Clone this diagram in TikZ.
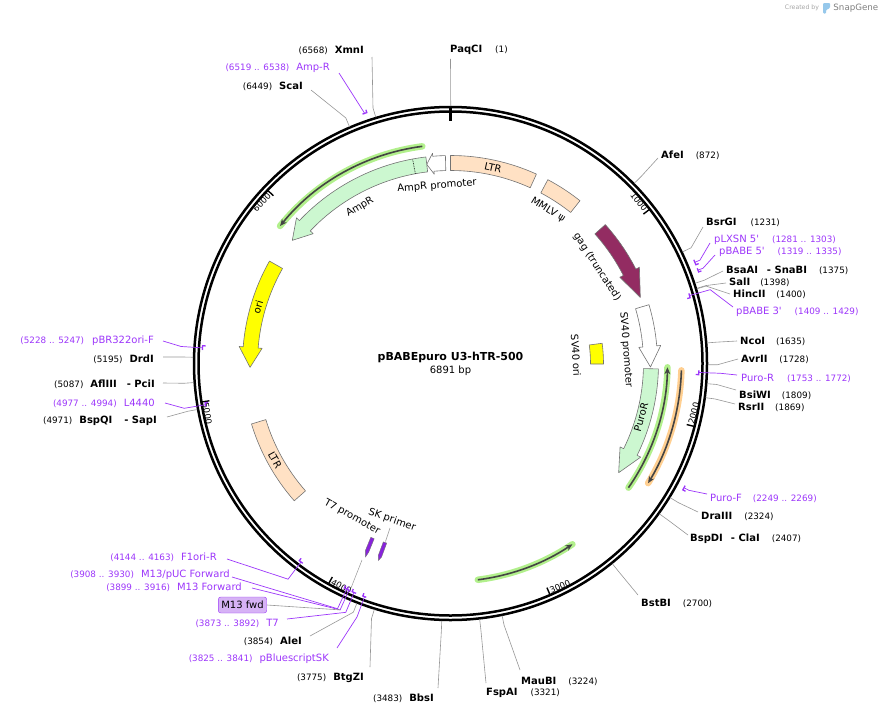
\documentclass[tikz,border=0pt]{standalone}
\usepackage{fontspec}
\setmainfont{DejaVu Sans}[Ligatures=TeXOff]
\usetikzlibrary{arrows.meta,positioning}

\definecolor{primerc}{RGB}{156,54,250}
\definecolor{ltrc}{RGB}{255,225,196}
\definecolor{ampc}{RGB}{204,247,208}
\definecolor{gagc}{RGB}{147,44,98}
\definecolor{oric}{RGB}{255,255,0}
\definecolor{glowg}{RGB}{178,240,140}
\definecolor{glowo}{RGB}{255,207,145}
\definecolor{orfdark}{RGB}{68,68,68}
\definecolor{leadc}{RGB}{150,150,150}
\definecolor{outc}{RGB}{115,115,115}
\definecolor{boxc}{RGB}{214,178,245}
\definecolor{t7c}{RGB}{136,34,220}
\definecolor{snapblue}{RGB}{150,200,235}

\newcommand{\posn}[1]{{\fontsize{8.8}{10}\selectfont(#1)}}

% bar between two angles (degrees from the top, clockwise)
\newcommand{\featbar}[5]{%
  \pgfmathsetmacro{\angA}{#2-90}\pgfmathsetmacro{\angB}{#3-90}
  \draw[#1] (\angA:#5) arc[start angle=\angA, end angle=\angB, radius=#5]
    -- (\angB:#4) arc[start angle=\angB, end angle=\angA, radius=#4] -- cycle;}
% arrow: style, tail, head base, tip, r in, r out, overhang
\newcommand{\featarrow}[7]{%
  \pgfmathsetmacro{\angA}{#2-90}\pgfmathsetmacro{\angB}{#3-90}\pgfmathsetmacro{\angC}{#4-90}
  \pgfmathsetmacro{\radM}{(#5+#6)/2}\pgfmathsetmacro{\radI}{#5-#7}\pgfmathsetmacro{\radO}{#6+#7}
  \draw[#1] (\angA:#6) arc[start angle=\angA, end angle=\angB, radius=#6]
    -- (\angB:\radO) -- (\angC:\radM) -- (\angB:\radI) -- (\angB:#5)
    arc[start angle=\angB, end angle=\angA, radius=#5] -- cycle;}
% open reading frame: glow colour, from, to, radius
\newcommand{\orfarc}[4]{%
  \pgfmathsetmacro{\angA}{#2-90}\pgfmathsetmacro{\angB}{#3-90}
  \draw[draw=#1, line width=6.5pt, line cap=round] (\angA:#4) arc[start angle=\angA, end angle=\angB, radius=#4];
  \draw[orfline] (\angA:#4) arc[start angle=\angA, end angle=\angB, radius=#4];}
% enzyme site on the circle
\newcommand{\enzsite}[2]{%
  \pgfmathsetmacro{\angS}{#2/6891*360-90}
  \coordinate (#1-s) at (\angS:257.5);
  \coordinate (#1-e) at (\angS:267);}
% primer mark: name, from, to, radius, tick
\newcommand{\primark}[5]{%
  \pgfmathsetmacro{\angA}{#2/6891*360-90}\pgfmathsetmacro{\angB}{#3/6891*360-90}
  \pgfmathsetmacro{\angM}{(\angA+\angB)/2}\pgfmathsetmacro{\radT}{#4+(#5)}
  \draw[pmark] (\angB:\radT) -- (\angB:#4) arc[start angle=\angB, end angle=\angA, radius=#4];
  \coordinate (#1-m) at (\angM:#4);
  \coordinate (#1-e) at (\angM:270);}

\tikzset{
  lblR/.style={anchor=west, inner sep=0pt, font=\fontsize{10}{12}\selectfont},
  lblL/.style={anchor=east, inner sep=0pt, font=\fontsize{10}{12}\selectfont},
  prim/.style={text=primerc},
  lead/.style={draw=leadc, line width=0.6pt},
  plead/.style={draw=primerc, line width=0.7pt},
  pmark/.style={draw=primerc, line width=1.3pt},
  feat/.style={draw=outc, line width=0.6pt, line join=round},
  featlbl/.style={font=\fontsize{10}{12}\selectfont, inner sep=0pt},
  ticklbl/.style={font=\fontsize{8.5}{10}\selectfont, inner sep=1.5pt},
  orfline/.style={draw=orfdark, line width=1.6pt, -{Stealth[length=7pt,width=6pt]}},
  m13box/.style={draw=primerc, fill=boxc, rounded corners=2.5pt, inner xsep=3pt, minimum height=16pt, font=\fontsize{10}{12}\selectfont},
}

\begin{document}
\begin{tikzpicture}[x=1pt,y=-1pt]
  \useasboundingbox (0,0) rectangle (881,715);

  \begin{scope}[shift={(450.5,363.5)}]
    % features
    \featbar{feat,fill=ltrc}{0}{24.4}{193}{208}
    \featbar{feat,fill=ltrc}{27.9}{38.5}{193}{208}
    \featarrow{feat,fill=gagc}{48.1}{63}{70.8}{194}{208}{4}
    \featarrow{feat,fill=white}{73.5}{85.1}{91}{193}{207}{4}
    \featarrow{feat,fill=ampc}{91.5}{116.2}{123}{193}{208}{4}
    \featarrow{feat,fill=white}{-1.4}{-4.9}{-6.8}{193}{208}{3}
    \featarrow{feat,fill=ampc}{-6.8}{-46.6}{-52.1}{193}{208}{4}
    \draw[densely dotted, line width=0.7pt] ({-10.5-90}:193) -- ({-10.5-90}:208);
    \featarrow{feat,fill=oric}{299.5}{274.6}{268.9}{193}{208}{4}
    \featbar{feat,fill=ltrc}{228.7}{253.1}{193}{208}
    \featbar{feat,fill=oric}{82.4}{90.2}{140}{153}

    % open reading frames
    \orfarc{glowg}{-7.4}{-51.1}{219}
    \orfarc{glowg}{124.9}{91}{217}
    \orfarc{glowo}{91.7}{121.2}{231}
    \orfarc{glowg}{172.8}{146}{218}

    % enzyme sites
    \enzsite{paqci}{1}
    \enzsite{afei}{872}
    \enzsite{bsrgi}{1231}
    \enzsite{bsaai}{1375}
    \enzsite{sali}{1398}
    \enzsite{hincii}{1400}
    \enzsite{ncoi}{1635}
    \enzsite{avrii}{1728}
    \enzsite{bsiwi}{1809}
    \enzsite{rsrii}{1869}
    \enzsite{draiii}{2324}
    \enzsite{bspdi}{2407}
    \enzsite{bstbi}{2700}
    \enzsite{maubi}{3224}
    \enzsite{fspai}{3321}
    \enzsite{bbsi}{3483}
    \enzsite{btgzi}{3775}
    \enzsite{alei}{3854}
    \enzsite{bspqi}{4971}
    \enzsite{afliii}{5087}
    \enzsite{drdi}{5195}
    \enzsite{scai}{6449}
    \enzsite{xmni}{6568}

    % backbone
    \draw[line width=2.5pt] (0,0) circle (256.5);
    \draw[line width=2.5pt] (0,0) circle (252);
    \draw[line width=2.6pt] (-90:258) -- (-90:243);
    \foreach \k in {1,...,6}
      \draw[line width=1.4pt] ({\k/6.891*360-90}:252) -- ({\k/6.891*360-90}:244);
    \node[ticklbl, anchor=east, rotate=-52.24] (t1) at ({1/6.891*360-90}:248) {1000};
    \node[ticklbl, anchor=west, rotate=75.52] (t2) at ({2/6.891*360-90}:248) {2000};
    \node[ticklbl, anchor=west, rotate=23.27] (t3) at ({3/6.891*360-90}:248) {3000};
    \node[ticklbl, anchor=west, rotate=-28.97] (t4) at ({4/6.891*360-90}:248) {4000};
    \node[ticklbl, anchor=west, rotate=-81.21] (t5) at ({5/6.891*360-90}:248) {5000};
    \node[ticklbl, anchor=east, rotate=46.55] (t6) at ({6/6.891*360-90}:248) {6000};

    % primer marks
    \primark{ampr}{6519}{6538}{264.5}{3}
    \primark{plxsn}{1281}{1303}{264.5}{3}
    \primark{pbabe5}{1319}{1335}{264.5}{3}
    \primark{pbabe3}{1409}{1429}{248.5}{-3}
    \primark{puror}{1753}{1772}{248.5}{-3}
    \primark{purof}{2249}{2269}{264.5}{3}
    \primark{pbrori}{5228}{5247}{248.5}{-3}
    \primark{l4440}{4977}{4994}{248.5}{-3}
    \primark{f1ori}{4144}{4163}{248.5}{-3}
    \primark{m13puc}{3908}{3930}{248.5}{-3}
    \primark{m13f}{3899}{3916}{248.5}{-3}
    \primark{t7}{3873}{3892}{248.5}{-3}
    \primark{pbsk}{3825}{3841}{248.5}{-3}
  \end{scope}

  % feature labels
  \node[featlbl, rotate=-12.4] (ltra) at (493,168) {LTR};
  \node[featlbl, rotate=-32] (psil) at (548,210) {MMLV ψ};
  \node[featlbl, rotate=-57] (gagl) at (597,267) {gag (truncated)};
  \node[featlbl, rotate=-85.6] (sv40pl) at (626,350) {SV40 promoter};
  \node[featlbl, rotate=-86.4] (sv40ol) at (576,355.5) {SV40 ori};
  \node[featlbl, rotate=74.4] (purorl) at (641,417) {PuroR};
  \node[featlbl, rotate=4.2] (amppl) at (437,186) {AmpR promoter};
  \node[featlbl, rotate=30] (amprl) at (360,207) {AmpR};
  \node[featlbl, rotate=73.6] (oril) at (258,307) {ori};
  \node[featlbl, rotate=-61] (ltrb) at (275,460) {LTR};
  \node[featlbl, rotate=-29] (t7pl) at (352,517) {T7 promoter};
  \node[featlbl, rotate=-19] (skl) at (392,520) {SK primer};

  % small displaced features
  \filldraw[draw=outc, fill=t7c, line width=0.4pt] (374.2,538.7) -- (368.7,552.2) -- (365.5,557) -- (365.3,550.8) -- (370.8,537.3) -- cycle;
  \filldraw[draw=outc, fill=t7c, line width=0.4pt] (386.7,543.1) -- (381.6,556.9) -- (378.5,560.5) -- (378.2,555.7) -- (383.3,541.9) -- cycle;
  \coordinate (skf) at (385.5,541.5);
  \coordinate (skl-foot) at (390,528);
  \coordinate (t7f) at (362,560);
  \coordinate (t7-circ) at (351,588);
  \draw[lead, line width=0.5pt] (skl-foot) -- (skf);
  \draw[lead, line width=0.5pt] (t7f) -- (t7-circ);

  % centre
  \node[font=\fontsize{11}{13}\selectfont\bfseries, inner sep=0pt] (pname) at (450.5,357) {pBABEpuro U3-hTR-500};
  \node[font=\fontsize{10}{12}\selectfont, inner sep=0pt, below=3pt of pname] (psize) {6891 bp};

  % labels, right side
  \node[lblR] (paqci) at (450,50) {\textbf{PaqCI}\hspace{13pt}\posn{1}};
  \node[lblR] (afei) at (661,155) {\textbf{AfeI}\hspace{12pt}\posn{872}};
  \node[lblR] (bsrgi) at (706,222) {\textbf{BsrGI}\hspace{14pt}\posn{1231}};
  \node[lblR,prim] (plxsn) at (714,240) {pLXSN 5'\hspace{13pt}\posn{1281 .. 1303}};
  \node[lblR,prim] (pbabe5) at (719,252) {pBABE 5'\hspace{13pt}\posn{1319 .. 1335}};
  \node[lblR] (bsaai) at (726,270) {\textbf{BsaAI}\hspace{9pt}\textbf{- SnaBI}\hspace{12pt}\posn{1375}};
  \node[lblR] (sali) at (729,282) {\textbf{SalI}\hspace{10pt}\posn{1398}};
  \node[lblR] (hincii) at (733,294) {\textbf{HincII}\hspace{11pt}\posn{1400}};
  \node[lblR,prim] (pbabe3) at (736,312) {pBABE 3'\hspace{13pt}\posn{1409 .. 1429}};
  \node[lblR] (ncoi) at (740,341) {\textbf{NcoI}\hspace{11pt}\posn{1635}};
  \node[lblR] (avrii) at (741,359) {\textbf{AvrII}\hspace{12pt}\posn{1728}};
  \node[lblR,prim] (puror) at (741,378) {Puro-R\hspace{13pt}\posn{1753 .. 1772}};
  \node[lblR] (bsiwi) at (739,395) {\textbf{BsiWI}\hspace{11pt}\posn{1809}};
  \node[lblR] (rsrii) at (738,407) {\textbf{RsrII}\hspace{11pt}\posn{1869}};
  \node[lblR,prim] (purof) at (710,498) {Puro-F\hspace{11pt}\posn{2249 .. 2269}};
  \node[lblR] (draiii) at (701,516) {\textbf{DraIII}\hspace{12pt}\posn{2324}};
  \node[lblR] (bspdi) at (690,539) {\textbf{BspDI}\hspace{8pt}\textbf{- ClaI}\hspace{12pt}\posn{2407}};
  \node[lblR] (bstbi) at (641,603) {\textbf{BstBI}\hspace{12pt}\posn{2700}};
  \node[lblR] (maubi) at (521,681) {\textbf{MauBI}\hspace{12pt}\posn{3224}};
  \node[lblR] (fspai) at (486,693) {\textbf{FspAI}\hspace{13pt}\posn{3321}};

  % labels, left side
  \node[lblL] (xmni) at (364,50) {\posn{6568}\hspace{7pt}\textbf{XmnI}};
  \node[lblL,prim] (ampr) at (330,68) {\posn{6519 .. 6538}\hspace{7pt}Amp-R};
  \node[lblL] (scai) at (303,86) {\posn{6449}\hspace{7pt}\textbf{ScaI}};
  \node[lblL,prim] (pbrori) at (154,341) {\posn{5228 .. 5247}\hspace{8pt}pBR322ori-F};
  \node[lblL] (drdi) at (154,359) {\posn{5195}\hspace{7pt}\textbf{DrdI}};
  \node[lblL] (afliii) at (155,384) {\posn{5087}\hspace{7pt}\textbf{AflIII}\hspace{10pt}\textbf{- PciI}};
  \node[lblL,prim] (l4440) at (155,403) {\posn{4977 .. 4994}\hspace{7pt}L4440};
  \node[lblL] (bspqi) at (157,421) {\posn{4971}\hspace{7pt}\textbf{BspQI}\hspace{12pt}\textbf{- SapI}};
  \node[lblL,prim] (f1ori) at (217,557) {\posn{4144 .. 4163}\hspace{7pt}F1ori-R};
  \node[lblL,prim] (m13puc) at (230,575) {\posn{3908 .. 3930}\hspace{7pt}M13/pUC Forward};
  \node[lblL,prim] (m13f) at (242,587) {\posn{3899 .. 3916}\hspace{7pt}M13 Forward};
  \node[m13box] (m13fwd) at (242.5,605) {M13 fwd};
  \node[lblL,prim] (t7) at (279,623) {\posn{3873 .. 3892}\hspace{7pt}T7};
  \node[lblL] (alei) at (302,641) {\posn{3854}\hspace{7pt}\textbf{AleI}};
  \node[lblL,prim] (pbsk) at (329,659) {\posn{3825 .. 3841}\hspace{7pt}pBluescriptSK};
  \node[lblL] (btgzi) at (364,678) {\posn{3775}\hspace{7pt}\textbf{BtgZI}};
  \node[lblL] (bbsi) at (434,698) {\posn{3483}\hspace{7pt}\textbf{BbsI}};

  % leader lines
  \draw[lead] (paqci-s) -- ([shift={(0.5,4)}]paqci.south west);
  \draw[lead] (afei-s) -- (afei-e) -- ([shift={(-3,3)}]afei.west);
  \draw[lead] (bsrgi-s) -- (bsrgi-e) -- ([shift={(-3,5)}]bsrgi.west);
  \draw[lead] (bsaai-s) -- (bsaai-e) -- ([shift={(-3,1)}]bsaai.west);
  \draw[lead] (sali-s) -- (sali-e) -- ([shift={(-3,1)}]sali.west);
  \draw[lead] (hincii-s) -- (hincii-e) -- ([shift={(-3,0)}]hincii.west);
  \draw[lead] (ncoi-s) -- (ncoi-e) -- ([shift={(-3,0)}]ncoi.west);
  \draw[lead] (avrii-s) -- (avrii-e) -- ([shift={(-3,0)}]avrii.west);
  \draw[lead] (bsiwi-s) -- (bsiwi-e) -- ([shift={(-3,-5)}]bsiwi.west);
  \draw[lead] (rsrii-s) -- (rsrii-e) -- ([shift={(-3,-3)}]rsrii.west);
  \draw[lead] (draiii-s) -- (draiii-e) -- ([shift={(-3,-4)}]draiii.west);
  \draw[lead] (bspdi-s) -- (bspdi-e) -- ([shift={(-2,-4)}]bspdi.west);
  \draw[lead] (bstbi-s) -- (bstbi-e) -- ([shift={(-3,-8)}]bstbi.west);
  \draw[lead] (maubi-s) -- (maubi-e) -- ([shift={(-1,-11)}]maubi.west);
  \draw[lead] (fspai-s) -- (fspai-e) -- ([shift={(0,-10)}]fspai.west);
  \draw[lead] (xmni-s) -- (xmni-e) -- ([shift={(8,7)}]xmni.east);
  \draw[lead] (scai-s) -- (scai-e) -- ([shift={(8,4)}]scai.east);
  \draw[lead] (drdi-s) -- (drdi-e) -- ([shift={(9,-2)}]drdi.east);
  \draw[lead] (afliii-s) -- (afliii-e) -- ([shift={(8,-1)}]afliii.east);
  \draw[lead] (bspqi-s) -- (bspqi-e) -- ([shift={(10,-4)}]bspqi.east);
  \draw[lead] (alei-s) -- (alei-e) -- ([shift={(8,-5)}]alei.east);
  \draw[lead] (btgzi-s) -- (btgzi-e) -- ([shift={(6,-11)}]btgzi.east);
  \draw[lead] (bbsi-s) -- (bbsi-e) -- ([shift={(4,-10)}]bbsi.east);

  \draw[plead] (ampr-m) -- ([shift={(9,5)}]ampr.east);
  \draw[plead] (plxsn-m) -- (plxsn-e) -- ([shift={(-4,3)}]plxsn.west);
  \draw[plead] (pbabe5-m) -- (pbabe5-e) -- ([shift={(-4,3)}]pbabe5.west);
  \draw[plead] (pbabe3-m) -- (pbabe3-e) -- ([shift={(-3,-5)}]pbabe3.west);
  \draw[plead] (puror-m) -- (puror-e) -- ([shift={(-4,-3)}]puror.west);
  \draw[plead] (purof-m) -- (purof-e) -- ([shift={(-3,-4)}]purof.west);
  \draw[plead] (pbrori-m) -- (pbrori-e) -- ([shift={(9,0)}]pbrori.east);
  \draw[plead] (l4440-m) -- (l4440-e) -- ([shift={(10,0)}]l4440.east);
  \draw[plead] (f1ori-m) -- (f1ori-e) -- ([shift={(10,2)}]f1ori.east);
  \draw[plead] (m13puc-m) -- (m13puc-e) -- ([shift={(2,2)}]m13puc.east);
  \draw[plead] (m13f-m) -- (m13f-e) -- ([shift={(10,1)}]m13f.east);
  \draw[lead] (m13f-e) -- (m13fwd.east);
  \draw[plead] (t7-m) -- (t7-e) -- ([shift={(8,-4)}]t7.east);
  \draw[plead] (pbsk-m) -- (pbsk-e) -- ([shift={(8,-11)}]pbsk.east);

  % credit
  \node[font=\fontsize{6.2}{8}\selectfont, text=black!35, inner sep=0pt] (credit) at (802,8) {Created by};
  \fill[snapblue, rounded corners=1pt] (823,3) -- (830,3) -- (830,8) -- (826,10) -- (826,13.5) -- (823,13.5) -- cycle;
  \node[font=\fontsize{8.7}{10}\selectfont, text=black!50, inner sep=0pt, right=14pt of credit] (snapg) {SnapGene};
\end{tikzpicture}
\end{document}
